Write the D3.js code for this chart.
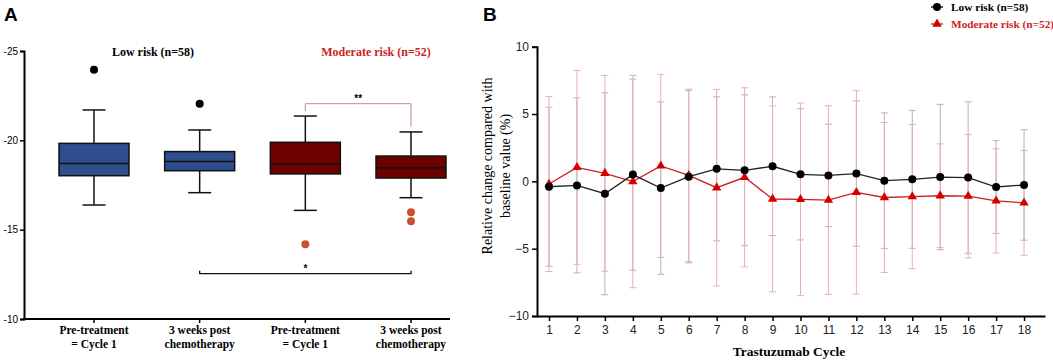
<!DOCTYPE html>
<html>
<head>
<meta charset="utf-8">
<script src="https://cdn.jsdelivr.net/npm/d3@7"></script>
<style>
  body { margin: 0; background: #fff; }
  svg { display: block; }
</style>
</head>
<body>
<script>
// ---- panel A data (box plots) ----
const groupLabels = [["Pre-treatment", "= Cycle 1"], ["3 weeks post", "chemotherapy"],
                     ["Pre-treatment", "= Cycle 1"], ["3 weeks post", "chemotherapy"]];
const groupRisk = ["low", "low", "moderate", "moderate"];
const whiskerTop = [-21.7, -20.58, -21.36, -20.47];
const boxTop = [-19.83, -19.37, -19.89, -19.12];
const medians = [-18.71, -18.81, -18.66, -18.47];
const boxBottom = [-18.02, -18.30, -18.12, -17.89];
const whiskerBottom = [-16.38, -17.07, -16.08, -16.79];
const outliers = [[-23.95], [-22.05], [-14.18], [-15.97, -15.47]];
const yTicksA = [-25, -20, -15, -10];

// ---- panel B data (mean +/- SD per cycle) ----
const cycles = d3.range(1, 19);
const lowMean = [-0.4, -0.3, -0.92, 0.5, -0.5, 0.35, 0.93, 0.82, 1.12, 0.52, 0.44, 0.58, 0.05, 0.15, 0.32, 0.28, -0.42, -0.27];
const lowSD = [5.9, 6.5, 7.5, 7.1, 6.4, 6.4, 5.35, 5.6, 5.15, 4.87, 3.8, 5.4, 5.03, 5.12, 5.4, 5.62, 3.45, 4.1];
const modMean = [-0.2, 1.04, 0.6, -0.02, 1.15, 0.45, -0.47, 0.3, -1.31, -1.34, -1.39, -0.82, -1.2, -1.13, -1.07, -1.1, -1.45, -1.6];
const modSD = [6.5, 7.2, 7.27, 7.88, 6.8, 6.4, 7.3, 6.65, 6.9, 7.15, 7.0, 7.55, 5.57, 5.36, 3.85, 4.59, 3.87, 3.89];
const yTicksB = [10, 5, 0, -5, -10];

const W = 1053, H = 361;
const serif = "'Liberation Serif', 'Times New Roman', serif";
const sans = "'Liberation Sans', Arial, sans-serif";
const blue = "#2e4e8e", darkRed = "#6e0000", red = "#cc1f1f";

const svg = d3.select("body").append("svg").attr("width", W).attr("height", H);

// ================= Panel A =================
svg.append("text").attr("x", 4).attr("y", 21).text("A")
    .attr("font-family", sans).attr("font-weight", "bold").attr("font-size", 19);

const yA = d3.scaleLinear().domain([-25, -10]).range([51, 319]);
const xA = d3.scalePoint().domain(d3.range(4)).range([94, 411]);
const gA = svg.append("g");

gA.append("g").attr("transform", "translate(24,0)")
    .call(d3.axisLeft(yA).tickValues(yTicksA).tickSize(4).tickPadding(2).tickFormat(d3.format("d")))
    .call(g => g.select(".domain").attr("stroke-width", 2))
    .call(g => g.selectAll(".tick line").attr("stroke-width", 1.5))
    .call(g => g.selectAll("text").attr("font-family", sans).attr("font-size", 10).text(d => "-" + Math.abs(d)));

gA.append("line").attr("x1", 23).attr("x2", 450).attr("y1", yA(-10)).attr("y2", yA(-10))
    .attr("stroke", "#000").attr("stroke-width", 2);

const boxW = 70, capW = 23;
d3.range(4).forEach(i => {
    const cx = xA(i);
    const g = gA.append("g");
    g.append("line").attr("x1", cx).attr("x2", cx).attr("y1", yA(-10)).attr("y2", yA(-10) + 4)
        .attr("stroke", "#000").attr("stroke-width", 1.5);
    // whiskers
    [[whiskerTop[i], boxTop[i]], [whiskerBottom[i], boxBottom[i]]].forEach(([w, b]) => {
        g.append("line").attr("x1", cx).attr("x2", cx).attr("y1", yA(w)).attr("y2", yA(b))
            .attr("stroke", "#111").attr("stroke-width", 1.5);
        g.append("line").attr("x1", cx - capW / 2).attr("x2", cx + capW / 2).attr("y1", yA(w)).attr("y2", yA(w))
            .attr("stroke", "#111").attr("stroke-width", 1.5);
    });
    g.append("rect").attr("x", cx - boxW / 2).attr("width", boxW)
        .attr("y", yA(boxTop[i])).attr("height", yA(boxBottom[i]) - yA(boxTop[i]))
        .attr("fill", groupRisk[i] === "low" ? blue : darkRed)
        .attr("stroke", "#111").attr("stroke-width", 1.5);
    g.append("line").attr("x1", cx - boxW / 2).attr("x2", cx + boxW / 2)
        .attr("y1", yA(medians[i])).attr("y2", yA(medians[i]))
        .attr("stroke", "#111").attr("stroke-width", 1.5);
    g.selectAll("circle").data(outliers[i]).enter().append("circle")
        .attr("cx", cx).attr("cy", d => yA(d)).attr("r", 4)
        .attr("fill", groupRisk[i] === "low" ? "#000" : "#c9502c");
    // category labels
    groupLabels[i].forEach((t, k) => {
        gA.append("text").attr("x", cx).attr("y", 334 + k * 14).attr("text-anchor", "middle")
            .attr("font-family", serif).attr("font-weight", "bold").attr("font-size", 11.5).text(t);
    });
});

gA.append("text").attr("x", 153).attr("y", 56).attr("text-anchor", "middle")
    .attr("font-family", serif).attr("font-weight", "bold").attr("font-size", 12).text("Low risk (n=58)");
gA.append("text").attr("x", 376).attr("y", 56).attr("text-anchor", "middle").attr("fill", red)
    .attr("font-family", serif).attr("font-weight", "bold").attr("font-size", 12).text("Moderate risk (n=52)");

// significance brackets
const b1 = 103.7;
gA.append("path")
    .attr("d", `M${xA(2)},${b1 + 7.5}V${b1}H${xA(3)}V${b1 + 23}`)
    .attr("fill", "none").attr("stroke", "#c08a8a").attr("stroke-width", 1);
gA.append("text").attr("x", (xA(2) + xA(3)) / 2).attr("y", b1 - 2).attr("text-anchor", "middle")
    .attr("font-family", sans).attr("font-weight", "bold").attr("font-size", 10).text("**");
const b2 = 273.7;
gA.append("path")
    .attr("d", `M${xA(1)},${b2 - 3}V${b2}H${xA(3)}V${b2 - 3}`)
    .attr("fill", "none").attr("stroke", "#111").attr("stroke-width", 1.3);
gA.append("text").attr("x", xA(2)).attr("y", b2 - 2).attr("text-anchor", "middle")
    .attr("font-family", sans).attr("font-weight", "bold").attr("font-size", 10).text("*");

// ================= Panel B =================
svg.append("text").attr("x", 483).attr("y", 21).text("B")
    .attr("font-family", sans).attr("font-weight", "bold").attr("font-size", 19);

const xB = d3.scaleLinear().domain([0.57, 18.75]).range([537, 1045]);
const yB = d3.scaleLinear().domain([-10, 10]).range([316, 46.7]);
const gB = svg.append("g");

// error bars: low risk (grey) then moderate (red)
function errorBars(means, sds, color) {
    const g = gB.append("g").attr("stroke", color).attr("stroke-width", 1).attr("fill", "none");
    cycles.forEach((c, i) => {
        const x = xB(c), hi = yB(means[i] + sds[i]), lo = yB(means[i] - sds[i]);
        g.append("line").attr("x1", x).attr("x2", x).attr("y1", hi).attr("y2", lo);
        g.append("line").attr("x1", x - 3.5).attr("x2", x + 3.5).attr("y1", hi).attr("y2", hi);
        g.append("line").attr("x1", x - 3.5).attr("x2", x + 3.5).attr("y1", lo).attr("y2", lo);
    });
}
errorBars(lowMean, lowSD, "#b5b5b5");
errorBars(modMean, modSD, "#eab0b0");

const line = d3.line().x((d, i) => xB(cycles[i])).y(d => yB(d));
gB.append("path").datum(modMean).attr("d", line).attr("fill", "none").attr("stroke", red).attr("stroke-width", 1.3);
gB.append("path").datum(lowMean).attr("d", line).attr("fill", "none").attr("stroke", "#222").attr("stroke-width", 1.3);

const tri = d3.symbol().type(d3.symbolTriangle).size(38);
gB.selectAll("path.tri").data(modMean).enter().append("path").attr("class", "tri")
    .attr("d", tri).attr("fill", "#d40000")
    .attr("transform", (d, i) => `translate(${xB(cycles[i])},${yB(d)})`);
gB.selectAll("circle.low").data(lowMean).enter().append("circle").attr("class", "low")
    .attr("cx", (d, i) => xB(cycles[i])).attr("cy", d => yB(d)).attr("r", 4).attr("fill", "#000");

// axes
gB.append("g").attr("transform", "translate(537,0)")
    .call(d3.axisLeft(yB).tickValues(yTicksB).tickSize(5).tickPadding(3))
    .call(g => g.select(".domain").attr("stroke-width", 2))
    .call(g => g.selectAll(".tick line").attr("stroke-width", 1.5))
    .call(g => g.selectAll("text").attr("font-family", sans).attr("font-size", 12).attr("fill", "#222"));
gB.append("g").attr("transform", "translate(0,316)")
    .call(d3.axisBottom(xB).tickValues(cycles).tickSize(5).tickPadding(4).tickSizeOuter(0))
    .call(g => g.select(".domain").attr("stroke-width", 2))
    .call(g => g.selectAll(".tick line").attr("stroke-width", 1.5))
    .call(g => g.selectAll("text").attr("font-family", sans).attr("font-size", 12).attr("fill", "#222"));

gB.append("text").attr("transform", "translate(492,166) rotate(-90)").attr("text-anchor", "middle")
    .attr("font-family", serif).attr("font-size", 14).text("Relative change compared with");
gB.append("text").attr("transform", "translate(510,166) rotate(-90)").attr("text-anchor", "middle")
    .attr("font-family", serif).attr("font-size", 14).text("baseline value (%)");
gB.append("text").attr("x", 789).attr("y", 356).attr("text-anchor", "middle")
    .attr("font-family", serif).attr("font-weight", "bold").attr("font-size", 13.5).text("Trastuzumab Cycle");

// legend
const lg = gB.append("g");
lg.append("line").attr("x1", 931).attr("x2", 943).attr("y1", 7).attr("y2", 7).attr("stroke", "#000").attr("stroke-width", 1.3);
lg.append("circle").attr("cx", 937).attr("cy", 7).attr("r", 4).attr("fill", "#000");
lg.append("line").attr("x1", 931).attr("x2", 943).attr("y1", 24).attr("y2", 24).attr("stroke", red).attr("stroke-width", 1.3);
lg.append("path").attr("d", tri).attr("fill", "#d40000").attr("transform", "translate(937,24)");
lg.append("text").attr("x", 951).attr("y", 11).attr("font-family", serif).attr("font-weight", "bold")
    .attr("font-size", 11.3).text("Low risk (n=58)");
lg.append("text").attr("x", 951).attr("y", 28).attr("font-family", serif).attr("font-weight", "bold")
    .attr("font-size", 11.3).attr("fill", red).text("Moderate risk (n=52)");
</script>
</body>
</html>
